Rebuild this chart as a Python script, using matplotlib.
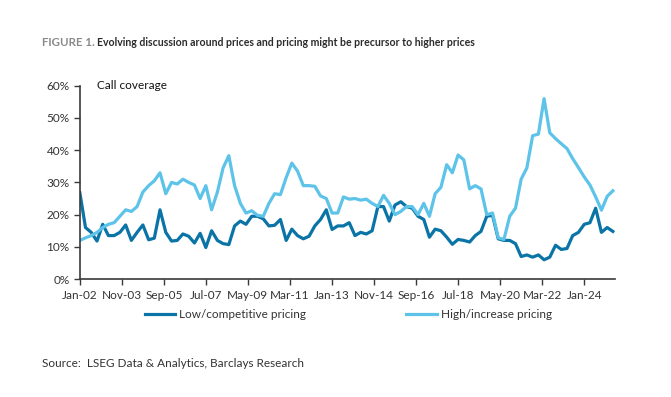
import numpy as np
import pandas as pd
import matplotlib
matplotlib.use('Agg')
import matplotlib.pyplot as plt
import matplotlib.dates as mdates
from matplotlib.ticker import PercentFormatter

# quarterly share of calls (%), Q1 2002 .. Q2 2025
low_pricing = [26.8, 16.0, 14.5, 11.8, 17.0, 13.5, 13.5, 14.5, 16.8, 12.0,
               14.5, 16.8, 12.2, 12.7, 21.5, 14.5, 11.8, 12.0, 14.0, 13.3,
               11.2, 14.2, 9.8, 15.0, 12.0, 11.0, 10.7, 16.5, 18.0, 17.0,
               19.5, 19.5, 18.7, 16.5, 16.7, 18.5, 12.0, 15.5, 13.5, 12.5,
               13.3, 16.5, 18.5, 21.5, 15.4, 16.5, 16.5, 17.5, 13.5, 14.5,
               14.0, 15.0, 22.5, 22.5, 18.0, 23.0, 24.0, 22.5, 22.0, 19.5,
               18.5, 13.0, 15.5, 15.0, 13.0, 10.8, 12.3, 12.0, 11.5, 13.5,
               14.8, 19.5, 19.8, 12.5, 12.0, 12.0, 11.0, 7.0, 7.5, 6.8,
               7.5, 6.0, 6.8, 10.5, 9.2, 9.5, 13.5, 14.5, 17.0, 17.5,
               22.0, 14.5, 16.0, 14.8]
high_pricing = [12.0, 12.8, 13.5, 14.5, 16.0, 17.0, 17.5, 19.5, 21.5, 21.0,
                22.5, 27.0, 29.0, 30.5, 33.0, 26.5, 30.0, 29.5, 31.0, 30.0,
                29.2, 25.0, 29.0, 21.5, 27.0, 34.5, 38.3, 29.0, 23.5, 20.5,
                21.2, 19.8, 19.5, 23.5, 26.5, 26.2, 31.5, 36.0, 33.5, 29.0,
                29.0, 28.8, 25.8, 25.0, 20.5, 20.5, 25.5, 24.8, 25.0, 24.5,
                24.8, 23.5, 22.5, 26.0, 23.5, 20.0, 21.0, 22.5, 22.5, 20.0,
                23.5, 19.5, 26.5, 28.5, 35.5, 33.0, 38.5, 37.0, 28.0, 29.0,
                28.0, 20.0, 20.5, 12.8, 12.3, 19.5, 22.0, 31.0, 34.5, 44.5,
                45.0, 56.0, 45.4, 43.6, 42.0, 40.5, 37.4, 34.6, 31.7, 29.2,
                25.5, 21.4, 25.7, 27.4]
dates = pd.date_range('2002-01-01', periods=len(low_pricing), freq='3MS')
tick_dates = pd.date_range('2002-01-01', '2024-12-31', freq='22MS')

dark = '#0b74a6'
light = '#5dc3e9'
txt = '#333333'

plt.rcParams['font.family'] = ['Lato', 'DejaVu Sans']

fig = plt.figure(figsize=(6.71, 3.97), dpi=100)
ax = fig.add_axes([0.119, 0.297, 0.798, 0.487])

ax.plot(dates, low_pricing, color=dark, lw=2.3, label='Low/competitive pricing')
ax.plot(dates, high_pricing, color=light, lw=2.3, label='High/increase pricing')

ax.set_ylim(0, 60)
ax.set_yticks(range(0, 61, 10))
ax.yaxis.set_major_formatter(PercentFormatter(decimals=0))
ax.set_xlim(pd.Timestamp('2002-01-01'), pd.Timestamp('2025-05-10'))
ax.set_xticks(tick_dates)
ax.xaxis.set_major_formatter(mdates.DateFormatter('%b-%y'))

for s in ['top', 'right']:
    ax.spines[s].set_visible(False)
for s in ['left', 'bottom']:
    ax.spines[s].set_color('#3a3a3a')
    ax.spines[s].set_linewidth(1.2)
ax.tick_params(axis='both', colors='#3a3a3a', labelcolor=txt, labelsize=8.5,
               length=4, width=1.0)

ax.text(0.032, 1.0, 'Call coverage', transform=ax.transAxes, fontsize=8.5,
        color='#111111', va='center')

fig.legend(loc='center', bbox_to_anchor=(0.519, 0.207), ncol=2, frameon=False,
           fontsize=8.5, handlelength=2.6, handletextpad=0.3, columnspacing=8.5,
           labelcolor=txt)

# title: grey prefix then bold text placed right after it
t1 = fig.text(0.062, 0.894, 'FIGURE 1.', fontsize=8.3, color='#8a8a8a',
              weight='bold', va='center')
fig.canvas.draw()
bb = t1.get_window_extent(fig.canvas.get_renderer())
x2 = bb.x1 / fig.bbox.width + 0.004
fig.text(x2, 0.894, 'Evolving discussion around prices and pricing might be precursor to higher prices',
         fontsize=7.6, color='#2b2b2b', weight='bold', va='center')
fig.text(0.062, 0.085, 'Source:  LSEG Data & Analytics, Barclays Research',
         fontsize=8.5, color=txt, va='center')

fig.savefig('out.png', dpi=100)
